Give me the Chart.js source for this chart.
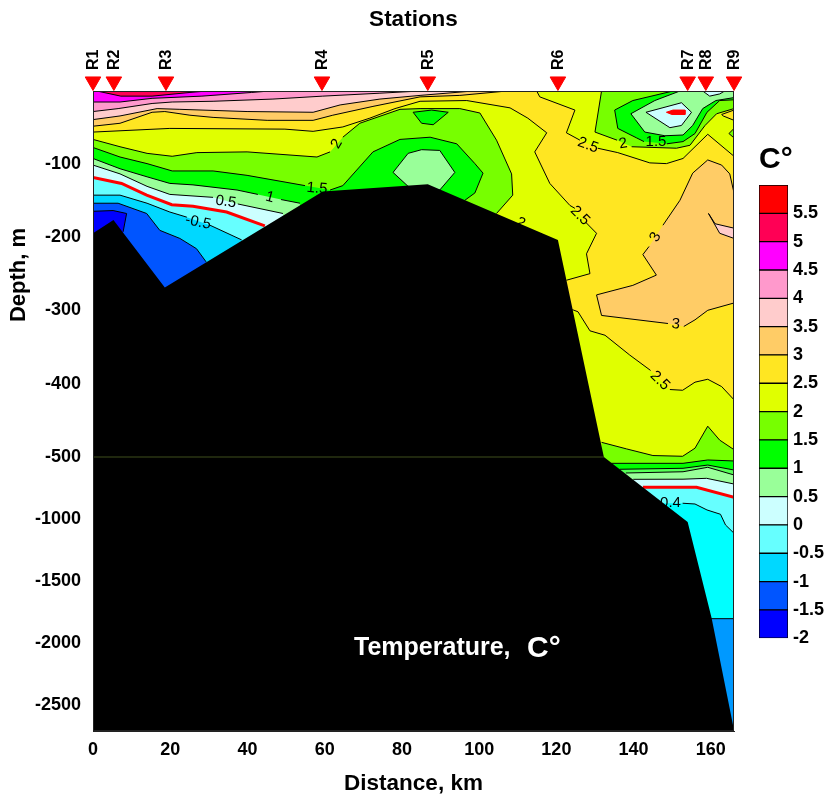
<!DOCTYPE html>
<html>
<head>
<meta charset="utf-8">
<script src="https://cdn.jsdelivr.net/npm/chart.js@4"></script>
<style>
html,body{margin:0;padding:0;background:#fff}
#wrap{position:relative;width:828px;height:800px}
canvas{position:absolute;display:block}
</style>
</head>
<body>
<div id="wrap">
<canvas id="main" width="828" height="800" style="left:0;top:0"></canvas>
<canvas id="key" width="83" height="514" style="left:745px;top:140px"></canvas>
</div>
<script>
const FONT='"Liberation Sans", Arial, sans-serif';
const topDepth=1, breakDepth=500, bottomDepth=2710, maxKm=166;
const xTicks=[0,20,40,60,80,100,120,140,160];
const depthTicks=[100,200,300,400,500,1000,1500,2000,2500];
const stationNames=['R1','R2','R3','R4','R5','R6','R7','R8','R9'];
const stationKm=[0,5.4,18.9,59.3,86.7,120.4,154,158.7,166];
const stationMarkDepth=[-12,-12,-12,-12,-12,-12,-12,-12,-12];

// isotherms: [km, depth m]
const iso50=[[1,1],[7.2,8],[15.3,8],[25.1,3],[29.5,1]];
const iso45=[[0,16],[7,16],[15.3,11],[28.2,8],[41.1,3],[45.8,1]];
const iso40=[[0,29],[6.5,25],[15.3,18],[20.5,16],[31.1,15],[46.6,12],[59.5,8],[74.3,4],[84.7,1]];
const iso35=[[0,40],[7,35],[16.6,25],[22.5,26],[39.9,29],[57,30],[64,20],[74.3,12],[84.7,7],[98.4,1]];
const iso30=[[0,49],[7,45],[15.3,30],[18.6,29],[25.1,34],[31.1,37],[45.1,41],[57,41],[62.1,34],[72.5,22],[84.7,9],[95,7],[107.2,1]];
const iso25a=[[0,57],[19.9,52],[49.7,53],[57,56],[64.7,50],[71.7,38],[78.2,25],[84.7,15],[96.8,14],[108,24],[112.6,38],[117.5,58],[114.4,84],[118.3,127],[123.5,157],[124.8,161]];
const iso25b=[[127.6,180],[130.4,195],[127.8,223],[128.7,250],[122.6,259]];
const iso25Top1=[[114.9,1],[115.7,9],[124.8,27],[122.6,58],[126.1,68]];
const iso25Top2=[[130.7,79],[135.9,85],[144.2,99],[148.5,100],[152.8,93],[159.2,60],[166,90]];
const iso25Low1=[[124.1,299],[125.6,302],[128.7,328],[132.6,334],[139,361],[144.4,382]];
const iso25Low2=[[149.4,408],[152.7,409],[155.9,398],[159.2,394],[162.8,404],[166,422]];
const iso30Blob1=[[166,140],[164.9,114],[162.8,102],[159.2,95],[155.3,113],[152,150],[147.6,184]];
const iso30Blob2=[[144,213],[142.4,224],[145.9,252],[139.8,266],[130.4,279],[131.7,307],[148.9,318]];
const iso30Blob3=[[153,322],[155.9,313],[159.2,300],[166,290]];
const iso35Blob=[[166,188],[161.1,182],[159.4,168],[162.3,195],[166,202]];
const iso25Spot=[[166,27],[162.8,33],[163.2,35],[166,41]];
const iso20Spot=[[166,52],[164.7,59],[166,65]];
const iso20a=[[0,67],[7,77],[14,86],[20.5,90],[26.9,85],[39.9,84],[58,91],[61.4,84]];
const iso20b=[[64.7,64],[69.1,45],[75.1,34],[79.5,26],[84.7,25],[95,25],[100.2,31],[104.5,68],[108.4,114],[108.7,143],[104.5,168]];
const iso20Top1=[[131.7,1],[130,57],[135.7,68]];
const iso20Top2=[[139.5,77],[151.1,79],[154.6,75],[158.5,48],[161.5,32],[166,25]];
const iso20Low=[[131.7,480],[138.2,489],[145,498],[152.7,499],[155.9,488],[159.2,458],[162.3,477],[166,490]];
const iso15a=[[0,78],[7,91],[14,100],[20.5,110],[31.1,110],[39.9,116],[54.9,130]];
const iso15b=[[61.4,136],[64.7,130],[72.5,84],[79.5,67],[87.3,64],[94.2,73],[98.9,100],[101,113],[98.9,140],[96.3,150]];
const iso15Top1=[[150.2,1],[139.8,14],[135.1,27],[135.9,52],[140.8,65],[142.7,70]];
const iso15Top2=[[148.6,73],[152.8,70],[155.9,59],[159,30],[162.3,14],[166,13]];
const iso15Low=[[134.2,551],[152.8,551],[159.2,524],[166,532]];
const iso10Spot=[[82.9,30],[87.7,27],[92,30],[88.1,47],[85.1,45],[82.9,30]];
const iso05Spot=[[77.7,112],[81.6,86],[85.1,81],[89.8,82],[93.7,112],[89.8,136],[81.6,131],[77.7,112]];
const iso10a=[[0,93],[7,107],[14,118],[19.9,127],[25.9,129],[37.3,136],[42.7,142]];
const iso10b=[[48.7,149],[53.6,154]];
const iso10Top=[[152,1],[145.5,14],[139.3,32],[142.9,57],[148.1,62],[152.8,61],[155.3,48],[157.9,25],[161.3,14],[166,10]];
const iso10Low=[[136.4,599],[152.8,591],[159.2,565],[166,605]];
const iso09Low=[[138,629],[152.8,619],[159.2,583],[166,645]];
const iso05a=[[0,102],[7,114],[14,131],[19.9,142],[31.1,146]];
const iso05b=[[37.5,155],[49.2,168]];
const iso05Low=[[139.9,680],[152.8,679],[158.9,672],[166,718]];
const iso00Spot=[[143.2,30],[152.4,17],[155,30],[152.4,48],[149.4,51],[143.2,30]];
const iso00Top=[[157.9,1],[159.7,8],[162.3,5],[163.6,1]];
const redSpot=[[148.5,30],[150.2,27],[153.3,27],[153.3,33],[149.9,33],[148.5,30]];
const iso00=[[0,119],[7.4,127],[13.9,143],[20.4,156],[25.9,158],[34.6,166],[44.5,185]];
const iso00Low=[[142.4,744],[156.3,744],[166,825]];
const isoM04=[[152.7,873],[155.9,879],[159,927],[162.5,962],[163.8,1048],[166,1115]];
const isoM04Hidden=[[147.6,873]];
const isoDeep=[[160,1804],[166,1804]];
const isoM05a=[[0,143],[7,143],[14,154],[19.9,166],[24.3,173]];
const isoM05b=[[30.3,184],[38.5,204]];
const isoM10=[[0,154],[6.5,154],[13.9,168],[17.3,191],[22.5,202],[26.8,216],[29.3,234]];
const isoM15=[[0,165],[5.2,164],[8.7,168],[7.8,193]];
const seafloor=[[0,195],[5.3,177],[18.6,269],[59.5,138],[86.7,128],[120.4,204],[132.3,500],[154,1024],[160.2,1798],[166,2702],[166,2710],[0,2710]];
const breakLine=[[0,500],[132.3,500]];

const labelText=['2','1.5','1','0.5','-0.5','2.5','2','1.5','2.5','3','2','3','2.5','-0.4'];
const labelKm=[63.1,58,45.8,34.4,27.2,128.2,137.3,145.8,126.1,145.7,110.7,150.9,146.8,148.9];
const labelDepth=[73,134,146,152,180,75,73,70,171,200,181,319,396,871];
const labelAngle=[-60,5,15,8,12,20,-10,0,45,-60,30,5,45,0];

const legendLevels=[-2,-1.5,-1,-0.5,0,0.5,1,1.5,2,2.5,3,3.5,4,4.5,5,5.5,6];
const legendColors=['#0000ff','#0055ff','#00d8ff','#66ffff','#ccffff','#99ff99','#00ff00','#77ff00','#e0ff00','#ffe622','#ffcc66','#ffcccc','#ff99cc','#ff00ff','#ff0055','#ff0000'];
const C={m20:'#0000ff',m15:'#0055ff',m10:'#00d8ff',m05:'#66ffff',z:'#ccffff',p05:'#99ff99',p10:'#00ff00',p15:'#77ff00',p20:'#e0ff00',p25:'#ffe622',p30:'#ffcc66',p35:'#ffcccc',p40:'#ff99cc',p45:'#ff00ff',p50:'#ff0055',red:'#ff0000',cyan:'#00ffff',deep:'#0099ff',mid:'#55ff55'};

class DepthBreakScale extends Chart.LinearScale{
  static id='depthBreak';
  static defaults={};
  buildTicks(){return depthTicks.map(v=>({value:v}));}
  splitPixel(){return this.top+(this.bottom-this.top)*(366/640);}
  getPixelForValue(v){
    const s=this.splitPixel();
    if(v<=breakDepth) return this.top+(v-topDepth)/(breakDepth-topDepth)*(s-this.top);
    return s+(v-breakDepth)/(bottomDepth-breakDepth)*(this.bottom-s);
  }
  getValueForPixel(p){
    const s=this.splitPixel();
    if(p<=s) return topDepth+(p-this.top)/(s-this.top)*(breakDepth-topDepth);
    return breakDepth+(p-s)/(this.bottom-s)*(bottomDepth-breakDepth);
  }
}
Chart.register(DepthBreakScale);

const pts=a=>a.map(p=>({x:p[0],y:p[1]}));
const below=(...parts)=>{const a=parts.flat();return a.concat([[a[a.length-1][0],bottomDepth],[a[0][0],bottomDepth]]);};
const over=(...parts)=>{const a=parts.flat();return a.concat([[a[a.length-1][0],topDepth],[a[0][0],topDepth]]);};
const datasets=[];
const area=(a,color,extra)=>datasets.push(Object.assign({type:'scatter',polygon:true,data:pts(a),fillColor:color,showLine:false,pointRadius:0,pointHoverRadius:0},extra||{}));
const line=(a,color,width)=>datasets.push({type:'scatter',data:pts(a),showLine:true,borderColor:color||'#000',borderWidth:width||1,pointRadius:0,pointHoverRadius:0,tension:0,fill:false});

area([[0,topDepth],[maxKm,topDepth],[maxKm,bottomDepth],[0,bottomDepth]],C.p25);
area(over(iso30),C.p30);
area(over(iso35),C.p35);
area(over(iso40),C.p40);
area(over(iso45),C.p45);
area(over(iso50),C.p50);
area(below(iso25a,iso25b),C.p20);
area(below(iso25Low1,iso25Low2),C.p20);
area(over(iso25Top1,iso25Top2),C.p20);
area([...iso30Blob1,...iso30Blob2,...iso30Blob3],C.p30);
area(iso35Blob,C.p35);
area(iso25Spot,C.p25);
area(iso20Spot,C.p15);
area(below(iso20a,iso20b),C.p15);
area(below(iso20Low),C.p15);
area(over(iso20Top1,iso20Top2),C.p15);
area(below(iso15a,iso15b),C.p10);
area(below(iso15Low),C.p10);
area(over(iso15Top1,iso15Top2),C.p10);
area(iso10Spot,C.p10);
area(iso05Spot,C.p05);
area(below(iso10a,iso10b),C.p05);
area(over(iso10Top),C.p05);
area(below(iso10Low),C.mid);
area(below(iso09Low),C.p05);
area(below(iso05a,iso05b),C.z);
area(below(iso05Low),C.z);
area(iso00Spot,C.z);
area(iso00Top,C.z);
area(below(iso00),C.m05);
area(below(iso00Low),C.m05);
area(below(isoM05a,isoM05b),C.m10);
area(below(isoM04Hidden,isoM04),C.cyan);
area(below(isoM10),C.m15);
area(below(isoDeep),C.deep);
area(below(isoM15),C.m20);
area(redSpot,C.red);

[iso50,iso45,iso40,iso35,iso30,iso25a,iso25b,iso25Top1,iso25Top2,iso25Low1,iso25Low2,iso30Blob1,iso30Blob2,iso30Blob3,iso35Blob,iso25Spot,iso20Spot,
 iso20a,iso20b,iso20Top1,iso20Top2,iso20Low,iso15a,iso15b,iso15Top1,iso15Top2,iso15Low,iso10Spot,iso05Spot,iso10a,iso10b,iso10Top,iso10Low,iso09Low,
 iso05a,iso05b,iso05Low,iso00Spot,iso00Top,isoM04,isoDeep,isoM05a,isoM05b,isoM10,isoM15].forEach(a=>line(a,'#000',1));
line(iso00,C.red,3);
line(iso00Low,C.red,3);
line(redSpot,C.red,1);
area(seafloor,'#000000',{labelsBefore:true});
line(breakLine,'#3f4f1c',1);
datasets.push({type:'scatter',data:stationKm.map((k,i)=>({x:k,y:stationMarkDepth[i]})),showLine:false,clip:false,pointStyle:'triangle',rotation:180,pointRadius:9,pointHoverRadius:9,pointBackgroundColor:'#ff0000',pointBorderColor:'#ff0000',pointBorderWidth:1});
datasets.forEach((d,i)=>d.order=-i);

const polygonPlugin={
  id:'polygons',
  beforeDatasetDraw(chart,args){
    const ds=chart.data.datasets[args.index];
    if(!ds.polygon) return;
    const ctx=chart.ctx,A=chart.chartArea,sx=chart.scales.x,sy=chart.scales.y;
    if(ds.labelsBefore){
      ctx.save();
      ctx.font='15px '+FONT;ctx.fillStyle='#000';ctx.textAlign='center';ctx.textBaseline='middle';
      labelText.forEach((t,i)=>{
        ctx.save();
        ctx.translate(sx.getPixelForValue(labelKm[i]),sy.getPixelForValue(labelDepth[i]));
        ctx.rotate(labelAngle[i]*Math.PI/180);
        ctx.fillText(t,0,0);
        ctx.restore();
      });
      ctx.restore();
    }
    ctx.save();
    ctx.beginPath();ctx.rect(A.left,A.top,A.right-A.left,A.bottom-A.top);ctx.clip();
    ctx.beginPath();
    args.meta.data.forEach((p,i)=>i?ctx.lineTo(p.x,p.y):ctx.moveTo(p.x,p.y));
    ctx.closePath();
    ctx.fillStyle=ds.fillColor;ctx.fill();
    ctx.restore();
  },
  afterDraw(chart){
    const ctx=chart.ctx,A=chart.chartArea,sx=chart.scales.x;
    ctx.save();
    ctx.strokeStyle='#222';ctx.lineWidth=1;
    ctx.strokeRect(A.left+.5,A.top+.5,A.right-A.left-1,A.bottom-A.top-1);
    ctx.fillStyle='#000';ctx.font='bold 22px '+FONT;ctx.textAlign='center';ctx.textBaseline='middle';
    ctx.save();ctx.translate(19,275);ctx.rotate(-Math.PI/2);ctx.fillText('Depth, m',0,0);ctx.restore();
    ctx.fillStyle='#fff';ctx.textAlign='left';ctx.textBaseline='alphabetic';
    ctx.font='bold 25px '+FONT;
    ctx.fillText('Temperature,',sx.getPixelForValue(67.6),655);
    ctx.font='bold 30px '+FONT;
    ctx.fillText('C°',sx.getPixelForValue(112.4),657);
    ctx.restore();
  }
};

const tickFont={family:FONT,size:18,weight:'bold'};
new Chart(document.getElementById('main'),{
  type:'scatter',
  data:{datasets},
  plugins:[polygonPlugin],
  options:{
    responsive:false,animation:false,events:[],
    layout:{padding:{left:0,right:94,top:0,bottom:0}},
    plugins:{legend:{display:false},tooltip:{enabled:false}},
    scales:{
      x:{type:'linear',position:'bottom',min:0,max:maxKm,
        afterBuildTicks:s=>{s.ticks=xTicks.map(v=>({value:v}));},
        afterFit:s=>{s.height=69;},
        grid:{display:false,drawTicks:true,tickLength:8,tickColor:'#000'},border:{color:'#222'},
        ticks:{font:tickFont,color:'#000',padding:0,maxRotation:0,autoSkip:false,callback:v=>String(v)},
        title:{display:true,text:'Distance, km',color:'#000',font:{family:FONT,size:22.5,weight:'bold'},padding:{top:0,bottom:3}}},
      xTop:{type:'linear',position:'top',min:0,max:maxKm,
        afterBuildTicks:s=>{s.ticks=stationKm.map(v=>({value:v}));},
        afterFit:s=>{s.height=91;},
        grid:{display:false,drawTicks:false},border:{display:false},
        ticks:{font:{family:FONT,size:16,weight:'bold'},color:'#000',padding:21,labelOffset:20,minRotation:90,maxRotation:90,autoSkip:false,callback:(v,i)=>stationNames[i]},
        title:{display:true,text:'Stations',color:'#000',font:{family:FONT,size:22.5,weight:'bold'},padding:{top:6,bottom:0}}},
      y:{type:'depthBreak',position:'left',min:topDepth,max:bottomDepth,
        afterFit:s=>{s.width=93;},
        grid:{display:false,drawTicks:true,tickLength:7,tickColor:'#000'},border:{color:'#222'},
        ticks:{font:tickFont,color:'#000',padding:5,autoSkip:false,callback:v=>'-'+v}}
    }
  }
});

new Chart(document.getElementById('key'),{
  type:'bar',
  data:{labels:['C°'],datasets:legendColors.map((c,i)=>({data:[[legendLevels[i],legendLevels[i+1]]],backgroundColor:c,borderColor:'#000',borderWidth:1,borderSkipped:false,grouped:false,barPercentage:1,categoryPercentage:1}))},
  options:{
    responsive:false,animation:false,events:[],
    layout:{padding:{left:14,right:0,top:0,bottom:8}},
    plugins:{legend:{display:false},tooltip:{enabled:false},
      title:{display:true,text:'C°',align:'start',color:'#000',font:{family:FONT,size:30,weight:'bold'},padding:{top:2,bottom:7}}},
    scales:{
      x:{display:false},
      y:{position:'right',min:-2,max:6,
        afterFit:s=>{s.width=40;},
        afterBuildTicks:s=>{s.ticks=legendLevels.slice(0,-1).map(v=>({value:v}));},
        grid:{display:false,drawTicks:false},border:{display:false},
        ticks:{font:tickFont,color:'#000',padding:5,autoSkip:false,callback:v=>String(v)}}
    }
  }
});
</script>
</body>
</html>
